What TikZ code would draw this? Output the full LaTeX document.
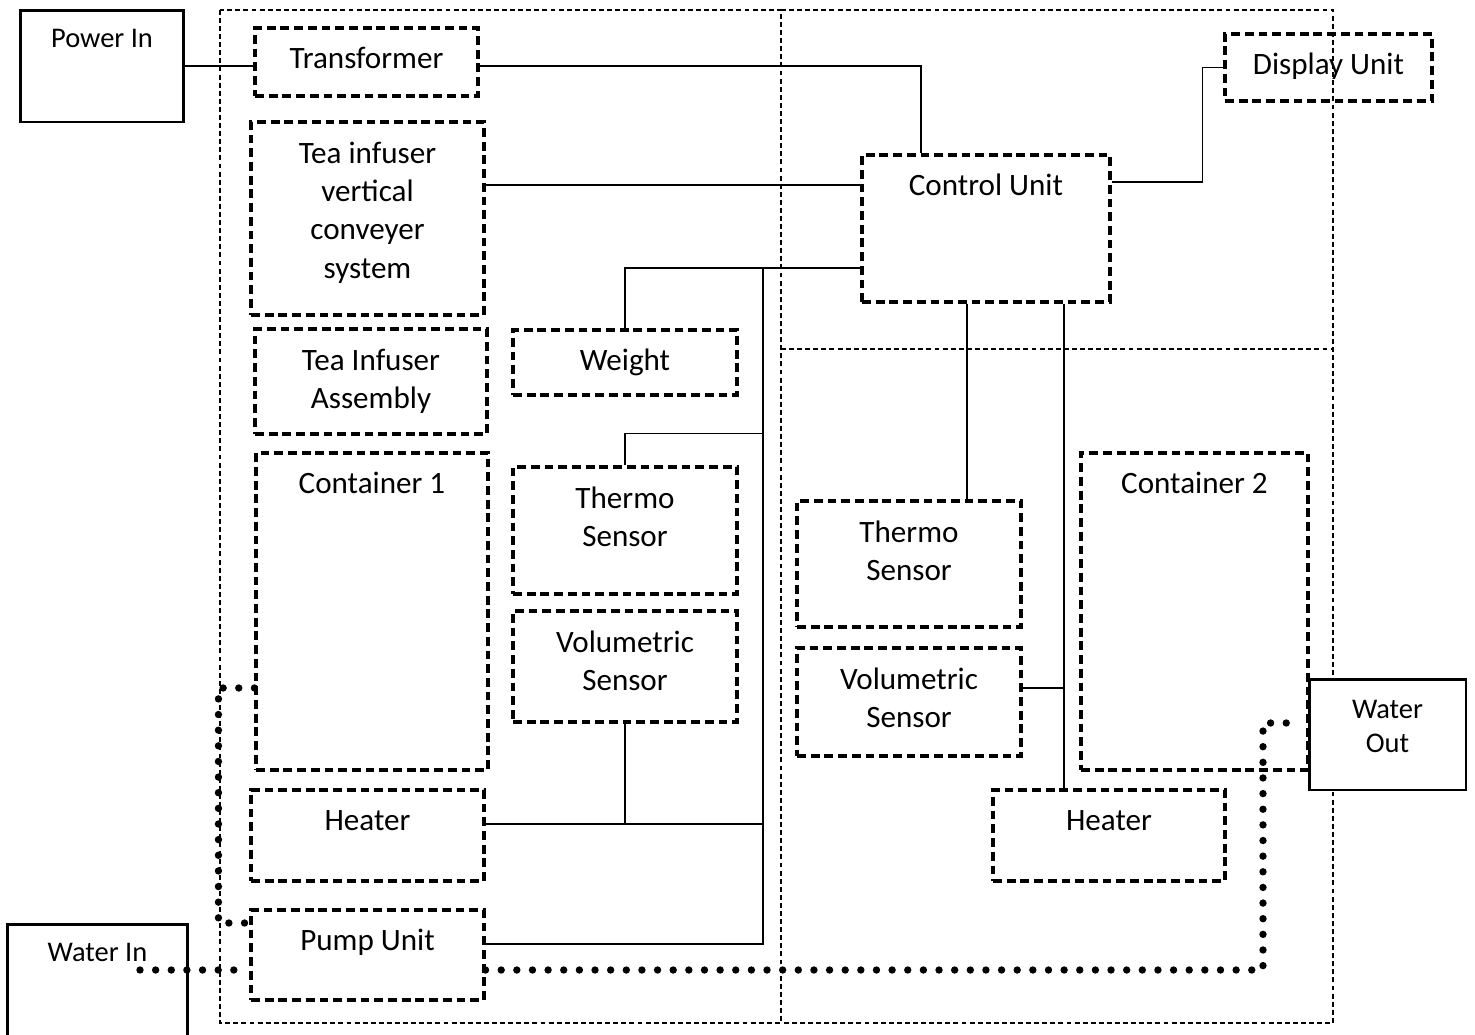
\documentclass[tikz,border=0pt]{standalone}
\usepackage{fontspec}
\setmainfont{Carlito}
\tikzset{
    tbox/.style = {rectangle, draw=black, line width=1.8pt, dash pattern=on 5pt off 2.8pt},
    sbox/.style = {rectangle, draw=black, line width=1.7pt, fill=white},
    zone/.style = {draw=black, line width=0.8pt, dash pattern=on 2.8pt off 1.8pt},
    wire/.style = {draw=black, line width=1pt},
    water/.style = {draw=black, line width=4.2pt, line cap=round, dash pattern=on 0pt off 8.9pt},
    intext/.style = {anchor=north, align=center, inner sep=0pt, yshift=-8.3pt,
        font=\fontsize{17.7}{21.8}\selectfont, execute at begin node=\strut},
    intextml/.style = {intext, yshift=-3.6pt},
    intextsm/.style = {anchor=north, align=center, inner sep=0pt, yshift=-8.3pt,
        font=\fontsize{16.2}{19.3}\selectfont, execute at begin node=\strut}
}

\begin{document}
\begin{tikzpicture}[x=0.02cm, y=-0.02cm]
  \useasboundingbox (0,0) rectangle (1475,1035);

  % housing zones
  \draw[zone] (220,10) rectangle (781,1023);
  \draw[zone] (781,10) -- (1333,10) -- (1333,1023) -- (781,1023);
  \draw[zone] (781,349) -- (1333,349);

  % left side
  \node (trans) at (366.5,62) [tbox,minimum width=4.46cm,minimum height=1.36cm,label={[intext]north:Transformer}] {};
  \node (conv) at (367.5,218.5) [tbox,minimum width=4.66cm,minimum height=3.86cm,label={[intextml]north:Tea infuser\\vertical\\conveyer\\system}] {};
  \node (asm) at (371,381.5) [tbox,minimum width=4.64cm,minimum height=2.10cm,label={[intextml]north:Tea Infuser\\Assembly}] {};
  \node (cont1) at (372,611.5) [tbox,minimum width=4.64cm,minimum height=6.34cm,label={[intext]north:Container 1}] {};
  \node (heat1) at (367.5,835.5) [tbox,minimum width=4.66cm,minimum height=1.82cm,label={[intext]north:Heater}] {};
  \node (pump) at (367.5,955) [tbox,minimum width=4.66cm,minimum height=1.80cm,label={[intext]north:Pump Unit}] {};
  \node (weight) at (625,362.5) [tbox,minimum width=4.48cm,minimum height=1.30cm,label={[intext]north:Weight}] {};
  \node (thermo1) at (625,530.5) [tbox,minimum width=4.48cm,minimum height=2.54cm,label={[intextml]north:Thermo\\Sensor}] {};
  \node (vol1) at (625,666.5) [tbox,minimum width=4.48cm,minimum height=2.22cm,label={[intextml]north:Volumetric\\Sensor}] {};

  % right side
  \node (ctrl) at (986,228.5) [tbox,minimum width=4.96cm,minimum height=2.94cm,label={[intext]north:Control Unit}] {};
  \node (disp) at (1328.5,67.5) [tbox,minimum width=4.14cm,minimum height=1.34cm,label={[intext]north:Display Unit}] {};
  \node (thermo2) at (909,564) [tbox,minimum width=4.48cm,minimum height=2.52cm,label={[intextml]north:Thermo\\Sensor}] {};
  \node (vol2) at (909,702) [tbox,minimum width=4.48cm,minimum height=2.16cm,label={[intextml]north:Volumetric\\Sensor}] {};
  \node (cont2) at (1194.5,611.5) [tbox,minimum width=4.54cm,minimum height=6.34cm,label={[intext]north:Container 2}] {};
  \node (heat2) at (1109,835.5) [tbox,minimum width=4.64cm,minimum height=1.82cm,label={[intext]north:Heater}] {};

  % supplies
  \node (pwr) at (102,66) [sbox,minimum width=3.28cm,minimum height=2.24cm,label={[intextsm]north:Power In}] {};
  \node (wout) at (1387.5,734.5) [sbox,minimum width=3.14cm,minimum height=2.22cm,label={[intextsm,yshift=-4.5pt]north:Water\\Out}] {};
  \node (win) at (97.5,984.5) [sbox,minimum width=3.62cm,minimum height=2.42cm,label={[intextsm]north:Water In}] {};

  % wiring
  \coordinate (p1) at ([yshift=-0.08cm]trans.west);
  \draw[wire] (p1 -| pwr.east) -- (p1);
  \draw[wire] ([yshift=-0.08cm]trans.east) -| ([xshift=-1.30cm]ctrl.north);
  \coordinate (p2) at ([yshift=0.67cm]conv.east);
  \draw[wire] (p2) -- (p2 -| ctrl.west);
  \coordinate (bus) at (763,268);
  \draw[wire] (weight.north) |- (bus -| ctrl.west);
  \draw[wire] (bus) |- ([yshift=0.22cm]pump.east);
  \draw[wire] (thermo1.north) -- ++(0,-32) coordinate (t1) -- (t1 -| bus);
  \coordinate (h1) at ([yshift=0.23cm]heat1.east);
  \draw[wire] (h1) -- (h1 -| bus);
  \draw[wire] (vol1.south) -- (vol1.south |- h1);
  \coordinate (c2) at ([xshift=-0.38cm]ctrl.south);
  \draw[wire] (c2) -- (c2 |- thermo2.north);
  \coordinate (c3) at ([xshift=1.56cm]ctrl.south);
  \draw[wire] (c3) -- (c3 |- heat2.north);
  \coordinate (v2) at ([yshift=0.28cm]vol2.east);
  \draw[wire] (v2) -- (v2 -| c3);
  \draw[wire] ([yshift=0.93cm]ctrl.east) -- ++(91,0) |- (disp.west);

  % water pipes
  \coordinate (wi) at (140,970);
  \coordinate (wo) at (1290,723);
  \draw[water] (wi) -- (wi -| pump.west);
  \draw[water] (wi -| pump.east) -| ([xshift=-0.54cm]wo) -- (wo);
  \draw[water] ([yshift=-1.53cm]cont1.west) -- ++(-36,0) |- ([yshift=0.64cm]pump.west);
\end{tikzpicture}
\end{document}
